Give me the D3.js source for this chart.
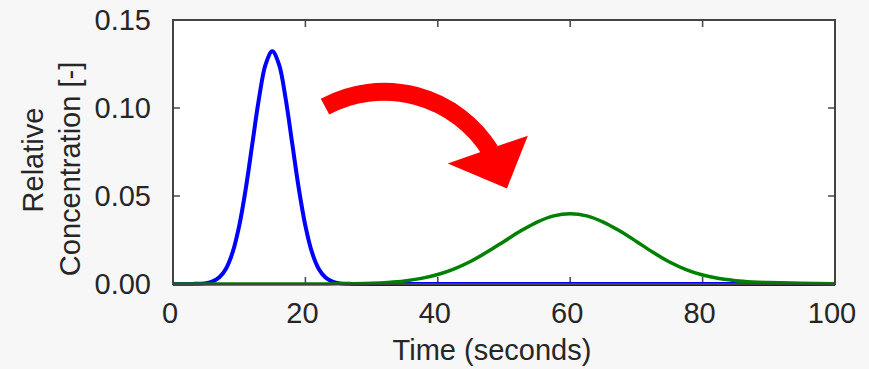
<!DOCTYPE html>
<html>
<head>
<meta charset="utf-8">
<script src="https://cdn.jsdelivr.net/npm/d3@7"></script>
<style>
  body { margin: 0; background: #f7f7f7; }
  svg { display: block; }
  text { font-family: "Liberation Sans", Arial, Helvetica, sans-serif; fill: #262626; }
</style>
</head>
<body>
<svg id="chart" width="869" height="369"></svg>
<script>
// time (s) and relative concentration
var blueTime = [0, 3, 5, 6, 7, 8, 9, 10, 11, 12, 13, 14, 15, 16, 17, 18, 19, 20, 21, 22, 23, 24, 25, 27, 30, 40, 60, 80, 100];
var blueConc = [0, 0.00004, 0.0005, 0.0015, 0.0038, 0.0087, 0.0179, 0.0330, 0.0543, 0.0801, 0.1057, 0.1249, 0.1322, 0.1249, 0.1057, 0.0801, 0.0543, 0.0330, 0.0179, 0.0087, 0.0038, 0.0015, 0.0005, 0.00004, 0, 0, 0, 0, 0];

var greenTime = [0, 10, 20, 25, 30, 32.5, 35, 37.5, 40, 42.5, 45, 47.5, 50, 52.5, 55, 57.5, 60, 62.5, 65, 67.5, 70, 72.5, 75, 77.5, 80, 82.5, 85, 87.5, 90, 95, 100];
var greenConc = [0, 0, 0.00001, 0.00009, 0.00044, 0.00091, 0.00175, 0.00318, 0.0054, 0.00864, 0.01295, 0.01827, 0.0242, 0.0301, 0.0352, 0.0387, 0.0399, 0.0387, 0.0352, 0.0301, 0.0242, 0.0180, 0.0125, 0.0082, 0.0051, 0.0031, 0.0019, 0.0012, 0.0008, 0.0004, 0.0002];

var xTicks = [0, 20, 40, 60, 80, 100];
var yTicks = [0, 0.05, 0.10, 0.15];

// arrow annotation in data units: shaft start, top, end, then head triangle
var arrowShaft = [[22.96, 0.1008], [31.42, 0.1092], [47.9, 0.0758]];
var arrowHead = [[41.5, 0.0685], [53.6, 0.0843], [50.45, 0.0543]];

var svg = d3.select('#chart');

var plotLeft = 173, plotRight = 835, plotTop = 20, plotBottom = 284;

var xScale = d3.scaleLinear().domain([0, 100]).range([plotLeft, plotRight]);
var yScale = d3.scaleLinear().domain([0, 0.15]).range([plotBottom, plotTop]);

svg.append('rect')
    .attr('x', plotLeft).attr('y', plotTop)
    .attr('width', plotRight - plotLeft).attr('height', plotBottom - plotTop)
    .attr('fill', '#fff');

// ticks pointing inwards on all four sides
var tickLen = 7;
var ticks = svg.append('g').attr('stroke', '#444').attr('stroke-width', 1.5);
xTicks.forEach(function (t) {
    ticks.append('line').attr('x1', xScale(t)).attr('x2', xScale(t)).attr('y1', plotBottom).attr('y2', plotBottom - tickLen);
    ticks.append('line').attr('x1', xScale(t)).attr('x2', xScale(t)).attr('y1', plotTop).attr('y2', plotTop + tickLen);
});
yTicks.forEach(function (v) {
    ticks.append('line').attr('x1', plotLeft).attr('x2', plotLeft + tickLen).attr('y1', yScale(v)).attr('y2', yScale(v));
    ticks.append('line').attr('x1', plotRight).attr('x2', plotRight - tickLen).attr('y1', yScale(v)).attr('y2', yScale(v));
});

svg.append('g').selectAll('text')
    .data(xTicks)
    .enter().append('text')
    .attr('x', function (d) { return xScale(d) - 3; })
    .attr('y', 323)
    .attr('text-anchor', 'middle')
    .style('font-size', '29px')
    .text(function (d) { return d; });

svg.append('g').selectAll('text')
    .data(yTicks)
    .enter().append('text')
    .attr('x', plotLeft - 22)
    .attr('y', function (d) { return yScale(d) + 10; })
    .attr('text-anchor', 'end')
    .style('font-size', '29px')
    .text(function (d) { return d3.format('.2f')(d); });

svg.append('text')
    .attr('x', 492).attr('y', 360)
    .attr('text-anchor', 'middle')
    .style('font-size', '29px')
    .text('Time (seconds)');

svg.append('text')
    .attr('transform', 'translate(43,160) rotate(-90)')
    .attr('text-anchor', 'middle')
    .style('font-size', '29px')
    .text('Relative');
svg.append('text')
    .attr('transform', 'translate(80,169) rotate(-90)')
    .attr('text-anchor', 'middle')
    .style('font-size', '29px')
    .text('Concentration [-]');

var line = d3.line()
    .x(function (d) { return xScale(d[0]); })
    .y(function (d) { return yScale(d[1]); })
    .curve(d3.curveCatmullRom);

svg.append('path')
    .datum(d3.zip(blueTime, blueConc))
    .attr('d', line)
    .attr('fill', 'none')
    .attr('stroke', '#0000ff')
    .attr('stroke-width', 4);

svg.append('path')
    .datum(d3.zip(greenTime, greenConc))
    .attr('d', line)
    .attr('fill', 'none')
    .attr('stroke', '#008000')
    .attr('stroke-width', 3.5);

// curved arrow: circle through the three shaft points
var p = arrowShaft.map(function (d) { return [xScale(d[0]), yScale(d[1])]; });
var ax = p[0][0], ay = p[0][1], bx = p[1][0], by = p[1][1], cx = p[2][0], cy = p[2][1];
var dd = 2 * (ax * (by - cy) + bx * (cy - ay) + cx * (ay - by));
var ux = ((ax * ax + ay * ay) * (by - cy) + (bx * bx + by * by) * (cy - ay) + (cx * cx + cy * cy) * (ay - by)) / dd;
var uy = ((ax * ax + ay * ay) * (cx - bx) + (bx * bx + by * by) * (ax - cx) + (cx * cx + cy * cy) * (bx - ax)) / dd;
var r = Math.hypot(ax - ux, ay - uy);
var a0 = Math.atan2(ay - uy, ax - ux), a1 = Math.atan2(cy - uy, cx - ux);
var shaft = d3.path();
shaft.moveTo(ax, ay);
shaft.arc(ux, uy, r, a0, a1, false);

svg.append('path')
    .attr('d', shaft.toString())
    .attr('fill', 'none')
    .attr('stroke', '#ff0000')
    .attr('stroke-width', 18);

svg.append('path')
    .attr('d', d3.line()
        .x(function (d) { return xScale(d[0]); })
        .y(function (d) { return yScale(d[1]); })(arrowHead) + 'Z')
    .attr('fill', '#ff0000');

// frame
svg.append('rect')
    .attr('x', plotLeft).attr('y', plotTop)
    .attr('width', plotRight - plotLeft).attr('height', plotBottom - plotTop)
    .attr('fill', 'none')
    .attr('stroke', '#444')
    .attr('stroke-width', 2);
</script>
</body>
</html>
